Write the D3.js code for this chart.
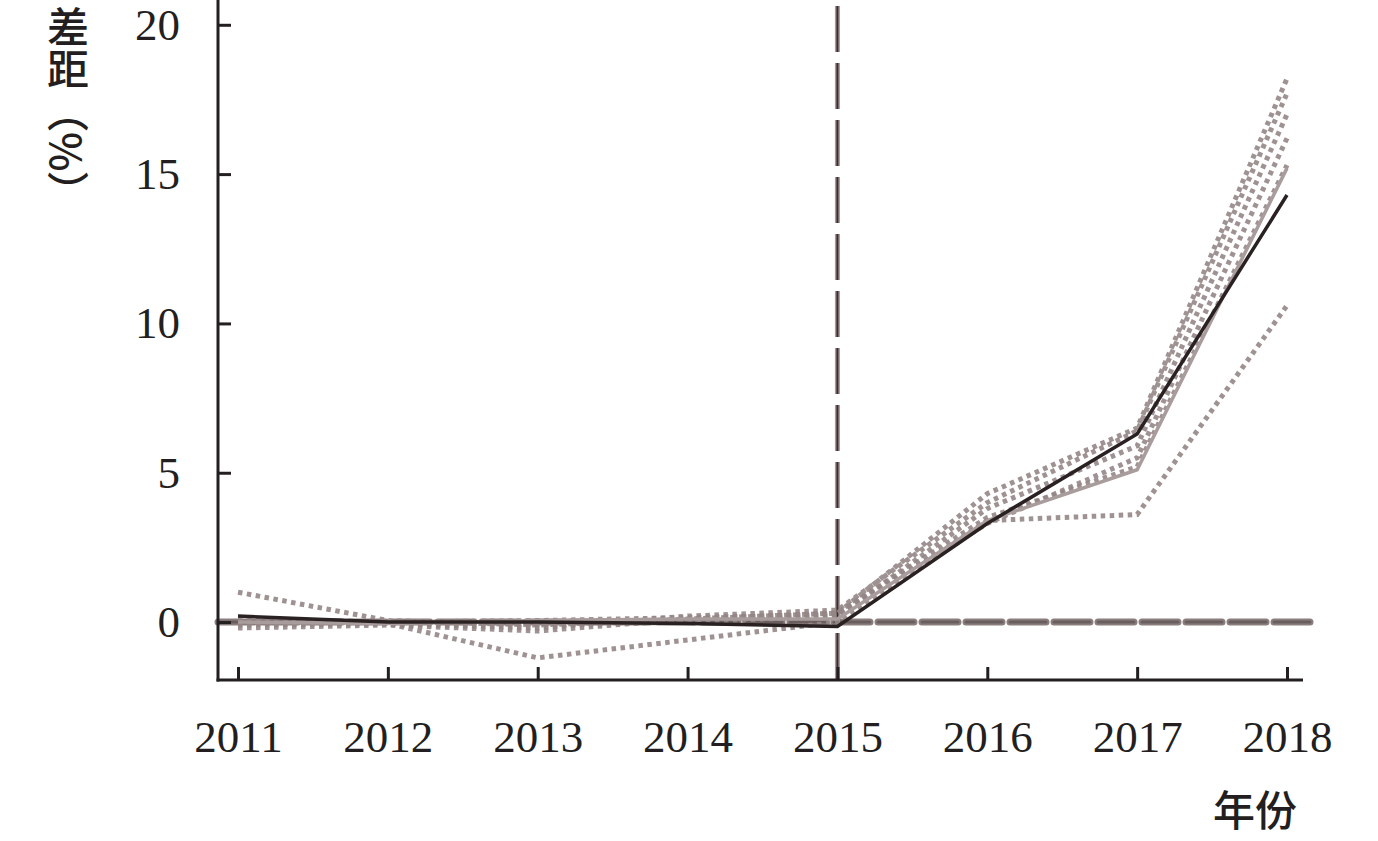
<!DOCTYPE html>
<html><head><meta charset="utf-8">
<script src="https://cdn.jsdelivr.net/npm/d3@7"></script>
<style>body{margin:0;background:#fff}svg{display:block}</style>
</head><body>
<svg id="c" width="1378" height="841"></svg>
<script>
const years = [2011, 2012, 2013, 2014, 2015, 2016, 2017, 2018];
const yTicks = [0, 5, 10, 15, 20];
const mainSeries = [0.2, 0.0, 0.0, -0.05, -0.15, 3.3, 6.3, 14.3];
const greySolid = [0.0, -0.05, 0.05, 0.1, 0.1, 3.4, 5.1, 15.2];
const dotted1 = [1.0, 0.05, -0.1, 0.1, 0.3, 4.3, 6.5, 18.2];
const dotted2 = [0.0, -0.05, -1.2, -0.6, 0.0, 3.4, 3.6, 10.6];
const dotted3 = [-0.1, -0.05, -0.2, 0.2, 0.4, 4.0, 6.4, 17.7];
const dotted4 = [0.1, 0.0, -0.1, 0.0, 0.2, 3.8, 5.9, 17.0];
const dotted5 = [-0.2, -0.1, -0.3, 0.1, 0.3, 3.5, 5.2, 15.3];
const dotted6 = [0.0, 0.0, 0.05, 0.15, 0.25, 3.3, 5.5, 16.2];
const dottedSeries = [dotted1, dotted2, dotted3, dotted4, dotted5, dotted6];
const breakYear = 2015;

const svg = d3.select("#c");
const x = d3.scaleLinear().domain([2011, 2018]).range([238, 1287]);
const y = d3.scaleLinear().domain([-1.94, 20.83]).range([680, 0]);
const axisColor = "#231f20";
const serif = "'Liberation Serif',serif";
const cjk = "'Noto Sans CJK SC','Noto Sans CJK JP',sans-serif";

// reference lines
svg.append("line").attr("x1", 218).attr("x2", 1310).attr("y1", y(0)).attr("y2", y(0))
  .attr("stroke", "#8a7e7e").attr("stroke-width", 7).attr("stroke-dasharray", "36,8").attr("stroke-linecap", "round");
svg.append("line").attr("x1", 218).attr("x2", 1310).attr("y1", y(0)).attr("y2", y(0))
  .attr("stroke", "#6a5e5e").attr("stroke-width", 3).attr("stroke-dasharray", "36,8").attr("stroke-linecap", "round");
svg.append("line").attr("x1", x(breakYear)).attr("x2", x(breakYear)).attr("y1", 6).attr("y2", 680)
  .attr("stroke", "#a89898").attr("stroke-width", 5).attr("stroke-dasharray", "46,11");
svg.append("line").attr("x1", x(breakYear)).attr("x2", x(breakYear)).attr("y1", 6).attr("y2", 680)
  .attr("stroke", "#3a2e2e").attr("stroke-width", 2).attr("stroke-dasharray", "46,11");

const line = d3.line().x((d, i) => x(years[i])).y(d => y(d));

dottedSeries.forEach(s => {
  svg.append("path").attr("d", line(s)).attr("fill", "none")
    .attr("stroke", "#958686").attr("stroke-width", 5).attr("stroke-dasharray", "4.5,4.5").attr("opacity", 0.9);
});
svg.append("path").attr("d", line(greySolid)).attr("fill", "none")
  .attr("stroke", "#a89c9c").attr("stroke-width", 3.5);
svg.append("path").attr("d", line(mainSeries)).attr("fill", "none")
  .attr("stroke", "#2a2222").attr("stroke-width", 3.5);

// axes
const yAxis = d3.axisLeft(y).tickValues(yTicks).tickSize(-13).tickSizeOuter(0).tickPadding(38);
const gy = svg.append("g").attr("transform", "translate(218,0)").call(yAxis);
gy.select(".domain").remove();
gy.selectAll(".tick line").attr("stroke", axisColor).attr("stroke-width", 3);
gy.selectAll(".tick text").attr("fill", axisColor).style("font-family", serif).style("font-size", "45px");

const xAxis = d3.axisBottom(x).tickValues(years).tickFormat(d3.format("d")).tickSize(-13).tickSizeOuter(0).tickPadding(40);
const gx = svg.append("g").attr("transform", "translate(0,680)").call(xAxis);
gx.select(".domain").remove();
gx.selectAll(".tick line").attr("stroke", axisColor).attr("stroke-width", 3);
gx.selectAll(".tick text").attr("fill", axisColor).style("font-family", serif).style("font-size", "45px");

svg.append("line").attr("x1", 218).attr("x2", 218).attr("y1", 0).attr("y2", 681.5)
  .attr("stroke", axisColor).attr("stroke-width", 3);
svg.append("line").attr("x1", 216.5).attr("x2", 1303).attr("y1", 680).attr("y2", 680)
  .attr("stroke", axisColor).attr("stroke-width", 3);

// axis titles
svg.append("text").attr("x", 68).attr("y", 6)
  .style("writing-mode", "vertical-rl").style("font-family", cjk).style("font-size", "42px")
  .style("font-weight", 500).attr("fill", axisColor).text("差距（%）");
svg.append("text").attr("x", 1255).attr("y", 826).attr("text-anchor", "middle")
  .style("font-family", cjk).style("font-size", "42px").style("font-weight", 500)
  .attr("fill", axisColor).text("年份");
</script>
</body></html>
